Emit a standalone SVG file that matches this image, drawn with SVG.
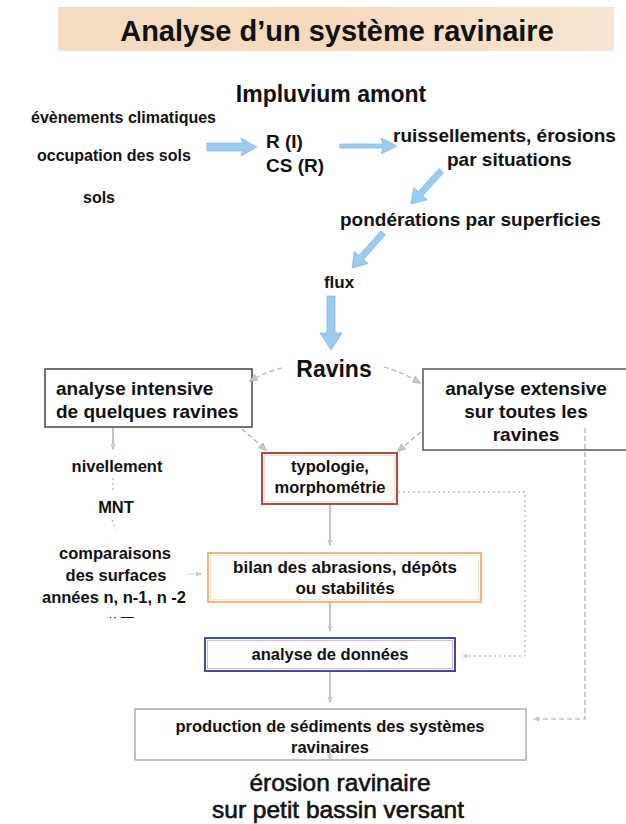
<svg xmlns="http://www.w3.org/2000/svg" width="626" height="824" viewBox="0 0 626 824">
<defs>
<linearGradient id="banner" x1="0" y1="0" x2="1" y2="0">
<stop offset="0" stop-color="#f3dcc0"/><stop offset="0.5" stop-color="#f6d9bd"/><stop offset="1" stop-color="#f8e6d2"/>
</linearGradient>
<marker id="ga" viewBox="0 0 10 10" refX="9" refY="5" markerWidth="7" markerHeight="7" orient="auto-start-reverse">
<path d="M0,1 L10,5 L0,9 z" fill="#c8c8c8" stroke="#aaa" stroke-width="0.8"/>
</marker>
<marker id="gs" viewBox="0 0 10 10" refX="9" refY="5" markerWidth="5" markerHeight="5" orient="auto">
<path d="M0,1 L10,5 L0,9 z" fill="#ccc" stroke="#bbb" stroke-width="0.8"/>
</marker>
</defs>
<style>
text{font-family:"Liberation Sans",Arial,sans-serif;fill:#111;font-weight:bold}
.title{font-size:29px;text-anchor:middle}
.big{font-size:23px;text-anchor:middle}
.lbl{font-size:16px}
.mid{font-size:19px}
.bx{font-size:19px}
.sm{font-size:16.5px;text-anchor:middle}
.c{text-anchor:middle}
.foot{font-size:24.5px;font-weight:normal;text-anchor:middle;stroke:#111;stroke-width:0.6}
.blue{fill:#9ccbf0;stroke:#86b8e6;stroke-width:0.8}
.gl{fill:none;stroke:#aaa;stroke-width:1.2;stroke-dasharray:5 3}
.dl{fill:none;stroke:#999;stroke-width:1;stroke-dasharray:2 3}
.vl{fill:none;stroke:#999;stroke-width:1.2}
</style>
<g id="title">
<rect x="58" y="7" width="556" height="44" fill="url(#banner)"/>
<text class="title" x="337" y="41">Analyse d’un système ravinaire</text>
</g>
<g id="impluvium"><text class="big" x="331" y="102">Impluvium amont</text></g>
<g id="evenements"><text class="lbl" x="31" y="123">évènements climatiques</text></g>
<g id="occupation"><text class="lbl" x="37" y="161">occupation des sols</text></g>
<g id="sols"><text class="lbl" x="83" y="203">sols</text></g>
<g id="ri"><text class="mid" x="266" y="148">R (I)</text><text class="mid" x="266" y="172">CS (R)</text></g>
<g id="ruissellements"><text class="mid" x="393" y="142">ruissellements, érosions</text><text class="mid" x="447" y="166">par situations</text></g>
<g id="ponderations"><text class="mid" x="340" y="226">pondérations par superficies</text></g>
<g id="flux"><text class="lbl c" x="339" y="288" style="font-size:17px">flux</text></g>
<g id="ravins"><text class="big" x="334" y="377">Ravins</text></g>
<g id="intensive">
<rect x="45" y="369" width="207" height="58" fill="#fff" stroke="#444" stroke-width="1.5"/>
<text class="bx" x="56" y="395">analyse intensive</text>
<text class="bx" x="56" y="418">de quelques ravines</text>
</g>
<g id="extensive">
<rect x="423" y="369" width="210" height="81" fill="#fff" stroke="#555" stroke-width="1.5"/>
<text class="bx c" x="526" y="395">analyse extensive</text>
<text class="bx c" x="526" y="418">sur toutes les</text>
<text class="bx c" x="526" y="441">ravines</text>
</g>
<g id="typologie">
<rect x="262" y="453" width="135" height="51" fill="#fff" stroke="#b8473f" stroke-width="2"/>
<rect x="264.5" y="455.5" width="130" height="46" fill="none" stroke="#f6dfc8" stroke-width="1"/>
<text class="sm" x="330" y="472">typologie,</text>
<text class="sm" x="330" y="493">morphométrie</text>
</g>
<g id="nivellement"><text class="sm" x="117" y="472">nivellement</text></g>
<g id="mnt"><text class="sm" x="116" y="513">MNT</text></g>
<g id="comparaisons">
<text class="sm" x="115" y="559">comparaisons</text>
<text class="sm" x="116" y="581">des surfaces</text>
<text class="sm" x="114" y="603">années n, n-1, n -2</text>
<text x="121" y="621" style="font-size:13px;font-weight:normal;text-anchor:middle">·· —</text>
</g>
<g id="bilan">
<rect x="208" y="553" width="273" height="49" fill="#fff" stroke="#f2b47a" stroke-width="2"/>
<rect x="210.5" y="555.5" width="268" height="44" fill="none" stroke="#fbe6d6" stroke-width="1"/>
<text class="sm" x="345" y="573" style="font-size:17px">bilan des abrasions, dépôts</text>
<text class="sm" x="345" y="594" style="font-size:17px">ou stabilités</text>
</g>
<g id="donnees">
<rect x="205" y="638" width="250" height="33" fill="#fff" stroke="#3d4d9c" stroke-width="2"/>
<rect x="207.5" y="640.5" width="245" height="28" fill="none" stroke="#e3b0d0" stroke-width="1"/>
<text class="sm" x="330" y="660">analyse de données</text>
</g>
<g id="production">
<rect x="135" y="709" width="391" height="51" fill="#fff" stroke="#999" stroke-width="1.2"/>
<text class="sm" x="330" y="732">production de sédiments des systèmes</text>
<text class="sm" x="330" y="753">ravinaires</text>
</g>
<g id="erosion">
<text class="foot" x="340" y="791">érosion ravinaire</text>
<text class="foot" x="338" y="818">sur petit bassin versant</text>
</g>
<g id="connectors">
<path class="blue" d="M207,143 L243,143 L241,138 L257,147 L241,156 L243,151 L207,151 z"/>
<path class="blue" d="M340,144 L383,144 L381,138 L397,146 L381,154 L383,148 L340,148 z"/>
<path class="blue" transform="translate(411,204) rotate(132.3)" d="M-45,-3 L-14,-3 L-14,-9 L0,0 L-14,9 L-14,3 L-45,3 z"/>
<path class="blue" transform="translate(352,268) rotate(131.5)" d="M-47,-3 L-14,-3 L-14,-9 L0,0 L-14,9 L-14,3 L-47,3 z"/>
<path class="blue" d="M327,296 L335,296 L335,333 L342,333 L331,350 L320,333 L327,333 z"/>
<path class="gl" d="M282,368 Q265,372 250,381" marker-end="url(#ga)"/>
<path class="gl" d="M384,367 Q402,372 420,383" marker-end="url(#ga)"/>
<path class="gl" d="M242,429 L266,450" marker-end="url(#ga)"/>
<path class="gl" d="M421,432 L398,451" marker-end="url(#ga)"/>
<path class="vl" d="M113,428 L113,449" marker-end="url(#gs)"/>
<path class="dl" d="M113,478 L113,490"/>
<path class="dl" d="M112,520 L116,530"/>
<path class="vl" d="M186,574 L201,574" marker-end="url(#gs)" style="stroke:#ddd"/>
<path class="vl" d="M330,505 L330,545" marker-end="url(#gs)"/>
<path class="vl" d="M330,603 L330,631" marker-end="url(#gs)"/>
<path class="vl" d="M330,672 L330,702" marker-end="url(#gs)"/>
<path class="vl" d="M330,745 L330,760" marker-end="url(#gs)"/>
<path class="dl" d="M398,492 L525,492 L525,656 L463,656" marker-end="url(#gs)"/>
<path class="gl" d="M585,428 L585,719 L534,719" marker-end="url(#gs)"/>
</g>
</svg>
